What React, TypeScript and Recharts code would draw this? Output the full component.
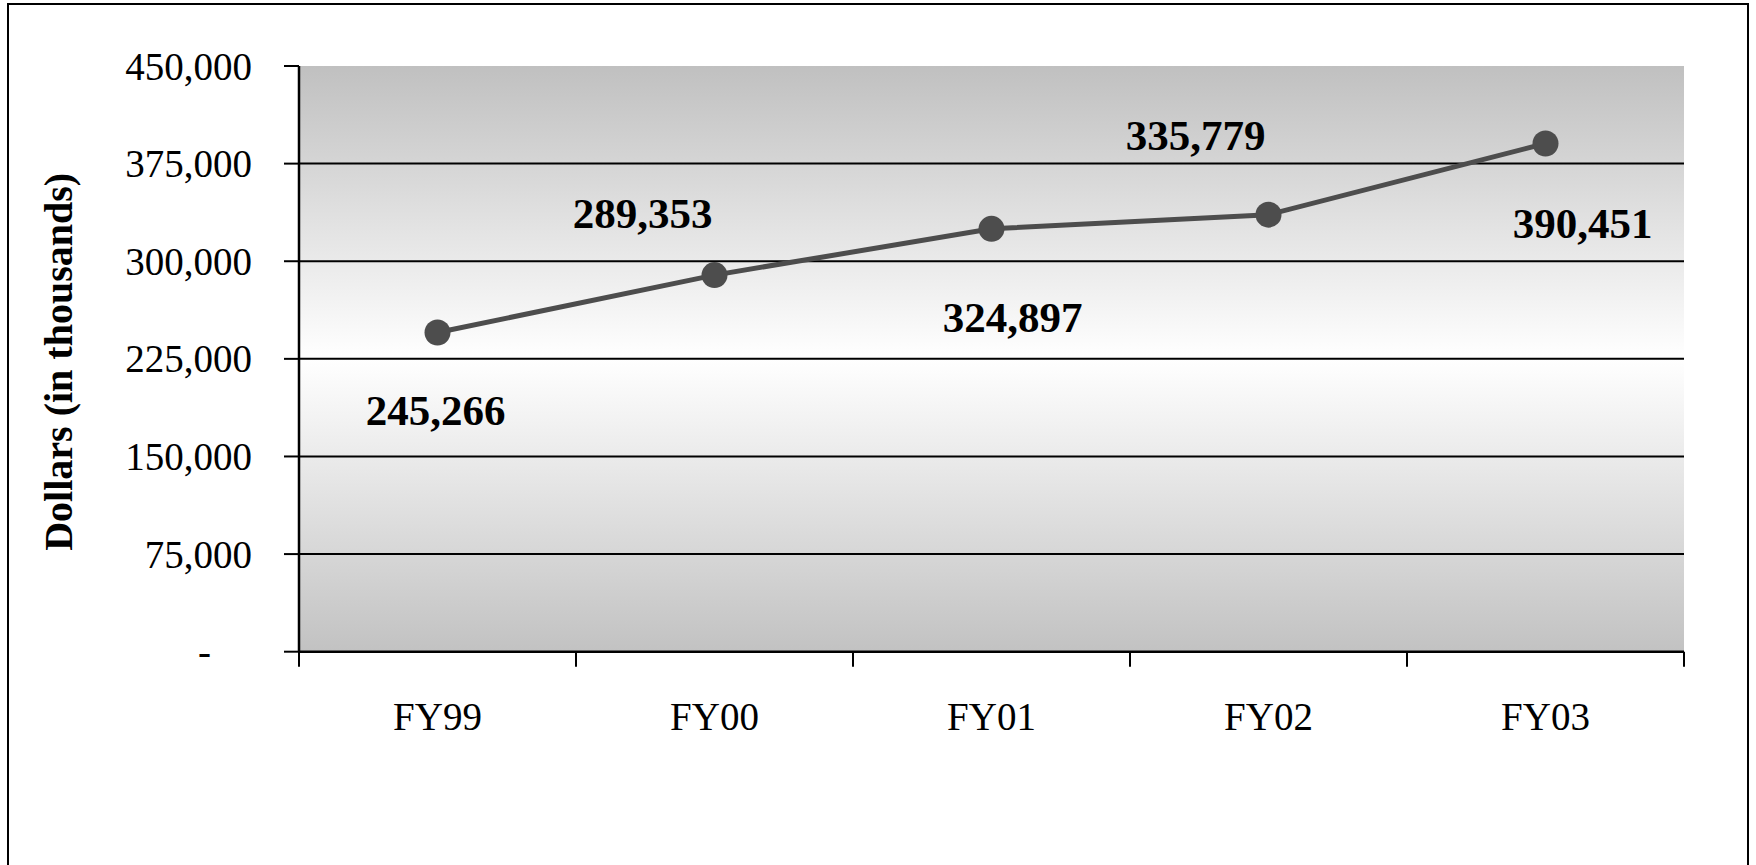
import React from 'react';
import {
  LineChart,
  Line,
  XAxis,
  YAxis,
  CartesianGrid,
  ReferenceLine,
  LabelList,
} from 'recharts';

// ---- data ----
const CATEGORIES = ['FY99', 'FY00', 'FY01', 'FY02', 'FY03'];
const FUNDING = [245266, 289353, 324897, 335779, 390451];
const Y_TICKS = [0, 75000, 150000, 225000, 300000, 375000, 450000];
const Y_TITLE = 'Dollars (in thousands)';

// ---- layout / style (not data) ----
const W = 1756;
const H = 865;
const PLOT_LEFT = 299;
const PLOT_RIGHT = 1684;
const PLOT_TOP = 66;
const PLOT_BOTTOM = 651.7;
const Y_AXIS_W = 200;
const X_AXIS_H = 80;
const BAND = (PLOT_RIGHT - PLOT_LEFT) / CATEGORIES.length;
const FONT = '"Liberation Serif", "Times New Roman", Times, serif';
// manual label placement relative to each point (dx, dy of label centre)
const LABEL_OFFSETS: [number, number][] = [
  [-2, 79],
  [-72, -61],
  [21, 89],
  [-73, -79],
  [37, 80],
];

const data = CATEGORIES.map((c, i) => ({ cat: c, value: FUNDING[i] }));
const GRID_VALUES = Y_TICKS.filter((v) => v > 0 && v < Y_TICKS[Y_TICKS.length - 1]);

const fmt = (v: number) => (v === 0 ? '-' : v.toLocaleString('en-US'));

const YTick = (props: any) => {
  const { x, y, payload } = props;
  const v = payload.value as number;
  return (
    <text
      x={v === 0 ? x - 41 : x}
      y={y + 13.5}
      textAnchor="end"
      fontFamily={FONT}
      fontSize={39}
      fill="#000"
    >
      {fmt(v)}
    </text>
  );
};

const XTick = (props: any) => {
  const { x, y, payload, index } = props;
  const left = x - BAND / 2;
  const right = x + BAND / 2;
  return (
    <g>
      <line x1={left} x2={left} y1={y} y2={y + 15} stroke="#000" strokeWidth={2} />
      {index === CATEGORIES.length - 1 && (
        <line x1={right} x2={right} y1={y} y2={y + 15} stroke="#000" strokeWidth={2} />
      )}
      <text
        x={x}
        y={y + 78}
        textAnchor="middle"
        fontFamily={FONT}
        fontSize={39}
        fill="#000"
      >
        {payload.value}
      </text>
    </g>
  );
};

const YTitle = (props: any) => {
  const vb = props.viewBox || {};
  const cy = (vb.y ?? PLOT_TOP) + (vb.height ?? PLOT_BOTTOM - PLOT_TOP) / 2 + 3;
  const cx = 72;
  return (
    <text
      x={cx}
      y={cy}
      transform={`rotate(-90 ${cx} ${cy})`}
      textAnchor="middle"
      fontFamily={FONT}
      fontSize={40}
      fontWeight="bold"
      fill="#000"
    >
      {Y_TITLE}
    </text>
  );
};

const PointLabel = (props: any) => {
  const { x, y, value, index } = props;
  const [dx, dy] = LABEL_OFFSETS[index] || [0, -40];
  return (
    <text
      x={x + dx}
      y={y + dy + 14}
      textAnchor="middle"
      fontFamily={FONT}
      fontSize={43}
      fontWeight="bold"
      fill="#000"
    >
      {fmt(value)}
    </text>
  );
};

export default function App() {
  return (
    <div
      style={{
        position: 'absolute',
        left: 0,
        top: 0,
        width: W,
        height: H,
        overflow: 'hidden',
        background: '#fff',
      }}
    >
      <div
        style={{
          position: 'absolute',
          left: 7,
          top: 3,
          width: 1742,
          height: 1000,
          border: '2.5px solid #000',
          boxSizing: 'border-box',
        }}
      />
      <div style={{ position: 'absolute', left: 0, top: 0 }}>
        <LineChart
          width={W}
          height={H}
          data={data}
          margin={{
            top: PLOT_TOP,
            left: PLOT_LEFT - Y_AXIS_W,
            right: W - PLOT_RIGHT,
            bottom: H - PLOT_BOTTOM - X_AXIS_H,
          }}
        >
          <defs>
            <linearGradient id="plotBg" x1="0" y1="0" x2="0" y2="1">
              <stop offset="0%" stopColor="#c0c0c0" />
              <stop offset="50%" stopColor="#ffffff" />
              <stop offset="100%" stopColor="#c2c2c2" />
            </linearGradient>
          </defs>
          <CartesianGrid
            horizontal={false}
            vertical={false}
            fill="url(#plotBg)"
            fillOpacity={1}
            stroke="none"
          />
          <XAxis
            dataKey="cat"
            height={X_AXIS_H}
            padding={{ left: BAND / 2, right: BAND / 2 }}
            axisLine={{ stroke: '#000', strokeWidth: 2.5 }}
            tickLine={false}
            tickSize={0}
            tickMargin={0}
            tick={<XTick />}
            interval={0}
          />
          <YAxis
            width={Y_AXIS_W}
            domain={[0, Y_TICKS[Y_TICKS.length - 1]]}
            ticks={Y_TICKS}
            interval={0}
            axisLine={{ stroke: '#000', strokeWidth: 2.5 }}
            tickLine={{ stroke: '#000', strokeWidth: 2 }}
            tickSize={15}
            tickMargin={32}
            tick={<YTick />}
            label={<YTitle />}
          />
          {GRID_VALUES.map((v) => (
            <ReferenceLine key={v} y={v} stroke="#000" strokeWidth={2} />
          ))}
          <Line
            dataKey="value"
            stroke="#4d4d4d"
            strokeWidth={5}
            dot={{ r: 13, fill: '#4d4d4d', stroke: 'none' }}
            activeDot={false}
            isAnimationActive={false}
          >
            <LabelList dataKey="value" content={<PointLabel />} />
          </Line>
        </LineChart>
      </div>
    </div>
  );
}
